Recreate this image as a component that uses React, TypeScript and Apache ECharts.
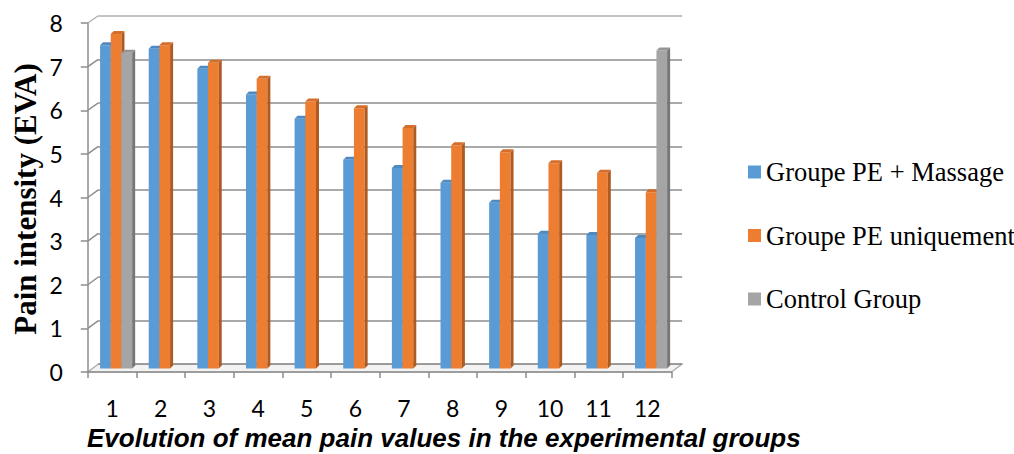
import React, { useEffect, useRef } from "react";
import * as echarts from "echarts";

const categories = ["1", "2", "3", "4", "5", "6", "7", "8", "9", "10", "11", "12"];
const massageValues = [7.43, 7.35, 6.89, 6.3, 5.74, 4.8, 4.61, 4.27, 3.81, 3.1, 3.07, 3.0];
const peOnlyValues = [7.69, 7.43, 7.03, 6.66, 6.14, 5.98, 5.53, 5.13, 4.97, 4.72, 4.5, 4.05];
const controlValues: (number | null)[] = [7.26, null, null, null, null, null, null, null, null, null, null, 7.31];
const seriesNames = ["Groupe PE + Massage", "Groupe PE uniquement", "Control Group"];
const yMin = 0;
const yMax = 8;
const yStep = 1;
const xTitle = "Evolution of mean pain values in the experimental groups";
const yTitle = "Pain intensity (EVA)";

const palette = [
  { front: "#5B9BD5", side: "#41719C", cap: "#4E8AC2" },
  { front: "#ED7D31", side: "#AE5A21", cap: "#D46E2A" },
  { front: "#A5A5A5", side: "#767676", cap: "#959595" },
];

// layout (pseudo-3D frame)
const FRONT = { left: 87.8, right: 671.6, top: 23, bottom: 372 };
const BACK = { left: 98.3, right: 682.1, top: 15.75, bottom: 364.1 };
const MID = { left: 93.3, right: 676.9, top: 20.5, bottom: 368.5 };
const W = 1014;
const H = 454;
const GRID_COLOR = "#8C8C8C";

function makeRender(s: number) {
  const c = palette[s];
  return (params: any, api: any) => {
    const v = api.value(1);
    if (v == null || isNaN(v)) return null;
    const i = api.value(0);
    const top = api.coord([i, v]);
    const base = api.coord([i, 0]);
    const catW = api.size([1, 0])[0];
    const w = catW * 0.22;
    const dx = 3;
    const dy = 3;
    const x0 = top[0] - 1.5 * w - dx / 2 + s * w;
    const x1 = x0 + w;
    const yt = top[1];
    const yb = base[1];
    return {
      type: "group",
      children: [
        { type: "rect", shape: { x: x0, y: yt, width: w, height: yb - yt }, style: { fill: c.front } },
        {
          type: "polygon",
          shape: { points: [[x1, yt], [x1 + dx, yt - dy], [x1 + dx, yb - dy], [x1, yb]] },
          style: { fill: c.side },
        },
        {
          type: "polygon",
          shape: { points: [[x0, yt], [x0 + dx, yt - dy], [x1 + dx, yt - dy], [x1, yt]] },
          style: { fill: c.cap },
        },
      ],
    };
  };
}

export default function App() {
  const ref = useRef<HTMLDivElement>(null);
  useEffect(() => {
    document.body.style.margin = "0";
    if (!ref.current) return;
    const chart = echarts.init(ref.current, null, { renderer: "svg" });

    const ticks: number[] = [];
    for (let v = yMin; v <= yMax; v += yStep) ticks.push(v);
    const yF = (v: number) => FRONT.bottom - ((v - yMin) / (yMax - yMin)) * (FRONT.bottom - FRONT.top);
    const yB = (v: number) => BACK.bottom - ((v - yMin) / (yMax - yMin)) * (BACK.bottom - BACK.top);

    const sideLines = ticks
      .filter((v) => v > yMin)
      .map((v) => ({
        type: "line",
        z: 1,
        shape: { x1: FRONT.left, y1: yF(v), x2: BACK.left, y2: yB(v) },
        style: { stroke: v === yMax ? "#B0B0B0" : GRID_COLOR, lineWidth: 1.5 },
        silent: true,
      }));

    const splitColors = ticks.map((v) => (v === yMax ? "#B0B0B0" : GRID_COLOR));

    const toPairs = (arr: (number | null)[]) =>
      arr.map((v, i) => (v == null ? null : [i, v])).filter((d) => d !== null);

    const option: any = {
      animation: false,
      grid: [
        { left: FRONT.left, width: FRONT.right - FRONT.left, top: FRONT.top, height: FRONT.bottom - FRONT.top },
        { left: BACK.left, width: BACK.right - BACK.left, top: BACK.top, height: BACK.bottom - BACK.top },
        { left: MID.left, width: MID.right - MID.left, top: MID.top, height: MID.bottom - MID.top },
      ],
      xAxis: [
        {
          gridIndex: 0,
          type: "category",
          data: categories,
          boundaryGap: true,
          axisLine: { show: true, lineStyle: { color: GRID_COLOR, width: 1.5 } },
          axisTick: { show: true, length: 6, interval: 0, lineStyle: { color: GRID_COLOR, width: 1.5 } },
          axisLabel: { interval: 0, margin: 24, color: "#000", fontFamily: "Lato", fontSize: 23 },
          splitLine: { show: false },
        },
        { gridIndex: 1, type: "value", show: false, min: 0, max: 1 },
        { gridIndex: 2, type: "category", data: categories, show: false, boundaryGap: true },
      ],
      yAxis: [
        {
          gridIndex: 0,
          type: "value",
          min: yMin,
          max: yMax,
          interval: yStep,
          axisLine: { show: true, lineStyle: { color: GRID_COLOR, width: 1.5 } },
          axisTick: { show: true, length: 7, lineStyle: { color: GRID_COLOR, width: 1.5 } },
          axisLabel: { margin: 25, color: "#000", fontFamily: "Lato", fontSize: 23 },
          splitLine: { show: false },
        },
        {
          gridIndex: 1,
          type: "value",
          min: yMin,
          max: yMax,
          interval: yStep,
          axisLine: { show: false },
          axisTick: { show: false },
          axisLabel: { show: false },
          splitLine: { show: true, lineStyle: { color: splitColors, width: 1.5 } },
        },
        { gridIndex: 2, type: "value", min: yMin, max: yMax, interval: yStep, show: false },
      ],
      legend: {
        orient: "vertical",
        left: 743,
        top: 153.5,
        itemWidth: 13,
        itemHeight: 13,
        itemGap: 36.5,
        icon: "rect",
        selectedMode: false,
        data: seriesNames,
        textStyle: { fontFamily: "Liberation Serif", fontSize: 26.5, color: "#000", lineHeight: 26 },
      },
      graphic: [
        {
          type: "polygon",
          z: 0,
          shape: {
            points: [
              [FRONT.left, FRONT.bottom],
              [BACK.left, BACK.bottom],
              [BACK.right, BACK.bottom],
              [FRONT.right, FRONT.bottom],
            ],
          },
          style: { fill: "#F3F3F3", stroke: "#A6A6A6", lineWidth: 1.2 },
          silent: true,
        },
        ...sideLines,
        {
          type: "text",
          x: 25,
          y: (60 + 338) / 2,
          rotation: Math.PI / 2,
          style: {
            text: yTitle,
            fontFamily: "Liberation Serif",
            fontWeight: "bold",
            fontSize: 31,
            fill: "#000",
            align: "center",
            verticalAlign: "middle",
          },
        },
        {
          type: "text",
          x: 87,
          y: 438,
          style: {
            text: xTitle,
            fontFamily: "Liberation Sans",
            fontWeight: "bold",
            fontStyle: "italic",
            fontSize: 26,
            fill: "#000",
            align: "left",
            verticalAlign: "middle",
          },
        },
      ],
      series: [massageValues, peOnlyValues, controlValues].map((arr, s) => ({
        type: "custom",
        name: seriesNames[s],
        xAxisIndex: 2,
        yAxisIndex: 2,
        z: 5,
        itemStyle: { color: palette[s].front },
        encode: { x: 0, y: 1 },
        data: toPairs(arr as (number | null)[]),
        renderItem: makeRender(s),
      })),
    };
    chart.setOption(option);
    return () => chart.dispose();
  }, []);
  return <div ref={ref} style={{ width: W, height: H }} />;
}
